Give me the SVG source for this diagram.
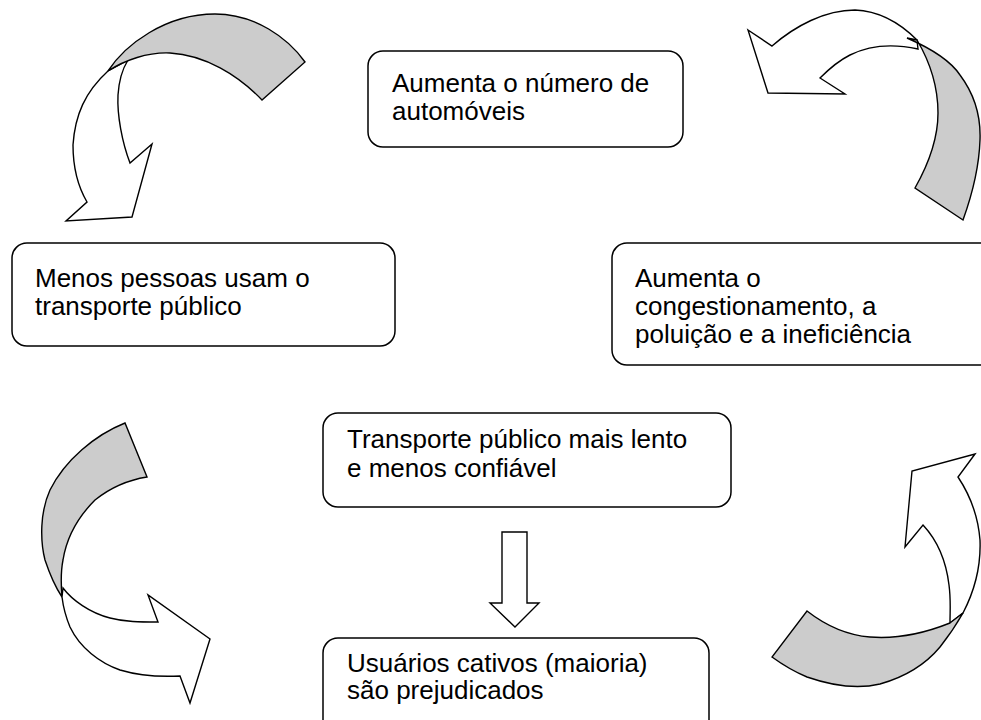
<svg xmlns="http://www.w3.org/2000/svg" width="981" height="720" viewBox="0 0 981 720">
<style>
.box{fill:#fff;stroke:#000;stroke-width:1.5}
.t{font-family:"Liberation Sans",Arial,sans-serif;font-size:26px;fill:#000}
.w{fill:#fff;stroke:#000;stroke-width:1.4;stroke-linejoin:miter}
.g{fill:#cccccc;stroke:#000;stroke-width:1.4;stroke-linejoin:miter}
</style>
<rect width="981" height="720" fill="#fff"/>
<g id="connectors">
<g id="arrow-top-left">
<path class="w" d="M108,71 C85,92 75,115 73,145 C73,170 80,190 87,202 L66,221 L132,217 L152,144 L130,163 C122,142 117,115 118,95 C119,80 123,68 128,60 C122,63 115,67 108,71 Z"/>
<path class="g" d="M108,71 C125,45 165,14 215,14 C255,14 288,38 305,62 L262,100 C238,75 205,55 170,53 C148,52 125,60 108,71 Z"/>
</g>
<g id="arrow-top-right">
<path class="w" d="M748,30 L772,46 C795,26 825,10 855,10 C880,11 900,23 917,40 L918,49 C895,44 870,45 850,55 C838,61 828,70 820,78 L845,94 L768,93 Z"/>
<path class="g" d="M907,38 C930,48 950,60 960,75 C975,95 981,115 980,140 C979,170 972,195 963,220 L915,188 C928,165 938,140 938,113 C938,88 930,62 917,40 Z"/>
</g>
<g id="arrow-bottom-left">
<path class="g" d="M125,423 C95,435 65,460 50,490 C40,512 40,540 45,560 C50,575 56,588 62,597 C61,585 61,570 63,560 C67,535 80,515 95,500 C110,488 128,480 147,477 Z"/>
<path class="w" d="M63,588 C72,600 90,613 110,618 C125,622 140,622 158,622 L148,595 L210,639 L190,703 L180,676 C160,677 140,676 120,670 C100,663 80,648 70,627 C65,615 63,605 62,597 Z"/>
</g>
<g id="arrow-bottom-right">
<path class="w" d="M975,454 L958,477 C970,495 978,515 980,540 C981,565 975,590 963,613 L950,623 C950,610 951,600 949,585 C946,560 937,540 923,525 L905,547 L912,471 Z"/>
<path class="g" d="M807,611 C825,625 845,635 870,637 C895,639 920,635 950,623 L963,613 C955,627 948,637 940,647 C925,665 905,677 880,684 C855,690 830,685 807,677 C795,672 783,665 772,657 Z"/>
</g>
<g id="arrow-down">
<path class="w" d="M502,532 L527,532 L527,603 L539,603 L515,627 L490,603 L502,603 Z"/>
</g>
</g>
<g id="node-automoveis">
<rect class="box" x="368" y="51" width="315" height="96" rx="15"/>
<text class="t" x="392" y="92">Aumenta o número de</text>
<text class="t" x="392" y="120">automóveis</text>
</g>
<g id="node-menos-pessoas">
<rect class="box" x="12" y="243" width="383" height="103" rx="15"/>
<text class="t" x="35" y="287">Menos pessoas usam o</text>
<text class="t" x="35" y="315">transporte público</text>
</g>
<g id="node-congestionamento">
<rect class="box" x="612" y="243" width="390" height="122" rx="15"/>
<text class="t" x="635" y="287">Aumenta o</text>
<text class="t" x="635" y="315">congestionamento, a</text>
<text class="t" x="635" y="343">poluição e a ineficiência</text>
</g>
<g id="node-transporte-lento">
<rect class="box" x="323" y="413" width="408" height="94" rx="15"/>
<text class="t" x="347" y="448">Transporte público mais lento</text>
<text class="t" x="347" y="477">e menos confiável</text>
</g>
<g id="node-usuarios">
<rect class="box" x="323" y="638" width="386" height="100" rx="15"/>
<text class="t" x="347" y="672">Usuários cativos (maioria)</text>
<text class="t" x="347" y="699">são prejudicados</text>
</g>
</svg>
